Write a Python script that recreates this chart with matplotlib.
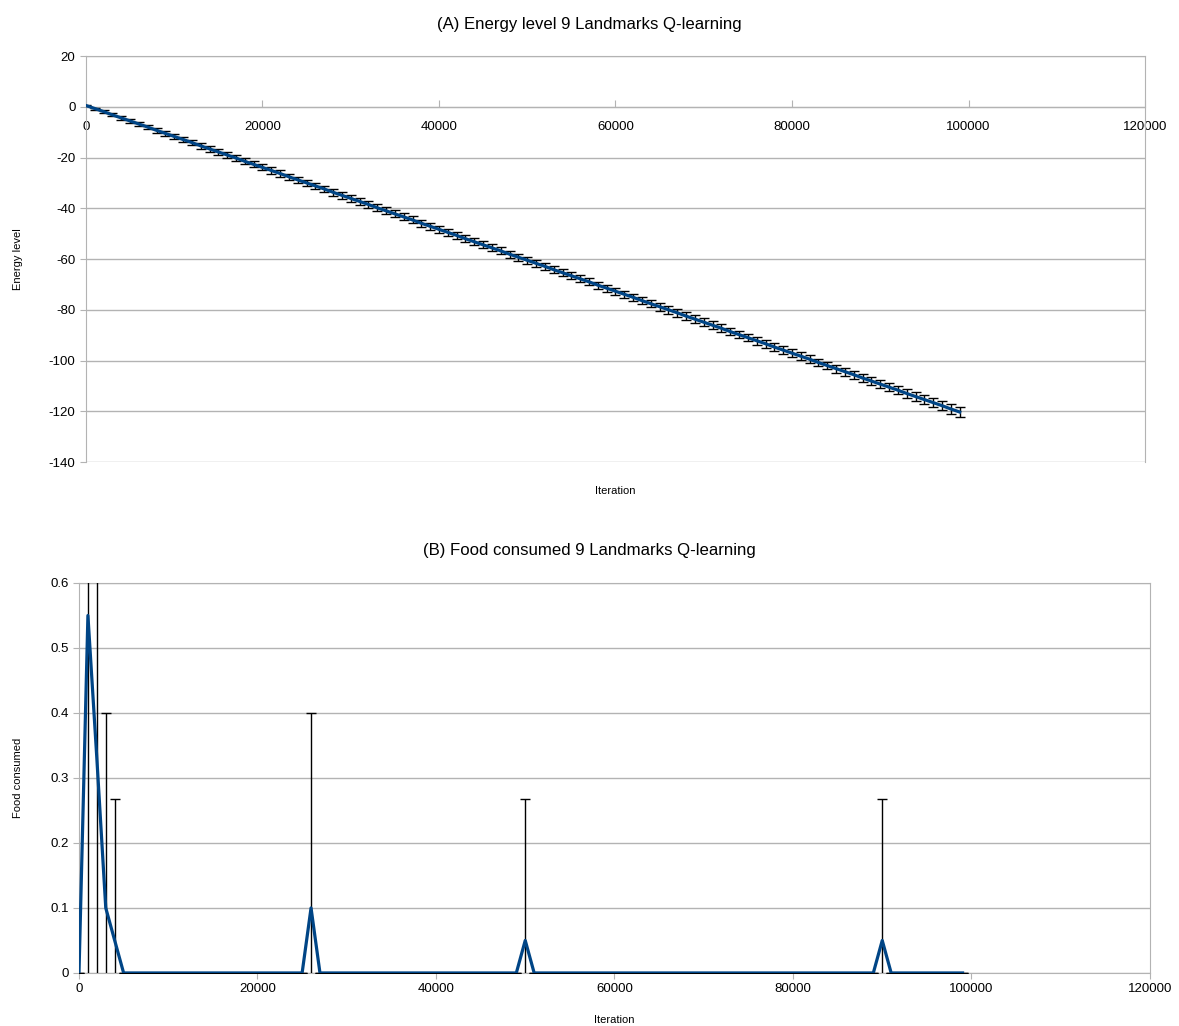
import matplotlib.pyplot as plt

plt.rcParams['font.family'] = ['Liberation Sans', 'DejaVu Sans']
plt.rcParams['axes.unicode_minus'] = False

# iterations, one sample every 1000 steps (0 .. 99000)
iterations = list(range(0, 100000, 1000))

energy = [
    0.5, -0.7, -1.9, -3.2, -4.4, -5.6, -6.8, -8.0, -9.3, -10.5,
    -11.7, -12.9, -14.1, -15.4, -16.6, -17.8, -19.0, -20.2, -21.5, -22.7,
    -23.9, -25.1, -26.3, -27.6, -28.8, -30.0, -31.2, -32.4, -33.7, -34.9,
    -36.1, -37.3, -38.5, -39.8, -41.0, -42.2, -43.4, -44.6, -45.9, -47.1,
    -48.3, -49.5, -50.7, -52.0, -53.2, -54.4, -55.6, -56.8, -58.1, -59.3,
    -60.5, -61.7, -62.9, -64.2, -65.4, -66.6, -67.8, -69.0, -70.3, -71.5,
    -72.7, -73.9, -75.1, -76.4, -77.6, -78.8, -80.0, -81.2, -82.5, -83.7,
    -84.9, -86.1, -87.3, -88.6, -89.8, -91.0, -92.2, -93.4, -94.7, -95.9,
    -97.1, -98.3, -99.5, -100.8, -102.0, -103.2, -104.4, -105.6, -106.9, -108.1,
    -109.3, -110.5, -111.7, -113.0, -114.2, -115.4, -116.6, -117.8, -119.1, -120.3,
]
energy_err = [
    0.2, 0.4, 0.5, 0.6, 0.7, 0.7, 0.8, 0.8, 0.9, 0.9,
    1.0, 1.0, 1.0, 1.1, 1.1, 1.1, 1.1, 1.2, 1.2, 1.2,
    1.2, 1.2, 1.3, 1.3, 1.3, 1.3, 1.3, 1.3, 1.3, 1.4,
    1.4, 1.4, 1.4, 1.4, 1.4, 1.4, 1.4, 1.4, 1.4, 1.4,
    1.4, 1.4, 1.4, 1.4, 1.4, 1.4, 1.4, 1.4, 1.4, 1.4,
    1.4, 1.4, 1.4, 1.4, 1.4, 1.4, 1.4, 1.4, 1.4, 1.4,
    1.4, 1.4, 1.4, 1.5, 1.5, 1.5, 1.5, 1.5, 1.5, 1.5,
    1.5, 1.5, 1.5, 1.5, 1.5, 1.5, 1.5, 1.5, 1.5, 1.5,
    1.5, 1.5, 1.5, 1.5, 1.5, 1.6, 1.6, 1.6, 1.6, 1.6,
    1.6, 1.6, 1.6, 1.7, 1.7, 1.7, 1.8, 1.8, 1.9, 2.0,
]

food = [0.0] * 100
food_err = [0.0] * 100
# non-zero samples: iteration -> (mean, error)
food_peaks = {
    1000: (0.55, 0.8),
    2000: (0.33, 0.5),
    3000: (0.10, 0.30),
    4000: (0.05, 0.218),
    26000: (0.10, 0.30),
    50000: (0.05, 0.218),
    90000: (0.05, 0.218),
}
for it, (m, e) in food_peaks.items():
    food[it // 1000] = m
    food_err[it // 1000] = e

blue = '#004586'
grid_grey = '#b3b3b3'

fig = plt.figure(figsize=(11.79, 10.26), dpi=100)

# (A) energy level
ax1 = fig.add_axes([0.0729, 0.5497, 0.8983, 0.3957])
ax1.errorbar(iterations, energy, yerr=energy_err, color=blue, lw=2.3,
             ecolor='black', elinewidth=1, capsize=3.5, capthick=1, zorder=3)
ax1.set_xlim(0, 120000)
ax1.set_ylim(-140, 20)
ax1.set_yticks(range(-140, 21, 20))
ax1.set_xticks(range(0, 120001, 20000))
ax1.grid(axis='y', color=grid_grey, lw=1)
ax1.spines['bottom'].set_position(('data', 0))
for s in ax1.spines.values():
    s.set_color(grid_grey)
ax1.tick_params(axis='x', direction='in', length=5, color=grid_grey, labelsize=9.5, pad=10)
ax1.tick_params(axis='y', direction='out', length=4, color=grid_grey, labelsize=9.5)
fig.text(0.5, 1 - 24 / 1026, '(A) Energy level 9 Landmarks Q-learning',
         ha='center', va='center', fontsize=12.1)
ax1.set_ylabel('Energy level', fontsize=8)
ax1.yaxis.set_label_coords(-0.064, 0.5)
ax1.yaxis.label.set_va('center')
ax1.text(0.5, -0.072, 'Iteration', transform=ax1.transAxes, ha='center', va='center', fontsize=8)

# (B) food consumed
ax2 = fig.add_axes([0.0670, 0.0517, 0.9084, 0.3801])
ax2.errorbar(iterations, food, yerr=food_err, color=blue, lw=2.3,
             ecolor='black', elinewidth=1, capsize=3.5, capthick=1, zorder=3)
ax2.set_xlim(0, 120000)
ax2.set_ylim(0, 0.6)
ax2.set_yticks([0, 0.1, 0.2, 0.3, 0.4, 0.5, 0.6])
ax2.set_yticklabels(['0', '0.1', '0.2', '0.3', '0.4', '0.5', '0.6'])
ax2.set_xticks(range(0, 120001, 20000))
ax2.grid(axis='y', color=grid_grey, lw=1)
for s in ax2.spines.values():
    s.set_color(grid_grey)
ax2.tick_params(axis='x', direction='out', length=4, color=grid_grey, labelsize=9.5)
ax2.tick_params(axis='y', direction='out', length=4, color=grid_grey, labelsize=9.5)
fig.text(0.5, 1 - 550 / 1026, '(B) Food consumed 9 Landmarks Q-learning',
         ha='center', va='center', fontsize=12.1)
ax2.set_ylabel('Food consumed', fontsize=8)
ax2.yaxis.set_label_coords(-0.057, 0.5)
ax2.yaxis.label.set_va('center')
ax2.set_xlabel('Iteration', fontsize=8, labelpad=14)

fig.savefig('out.png', dpi=100)
